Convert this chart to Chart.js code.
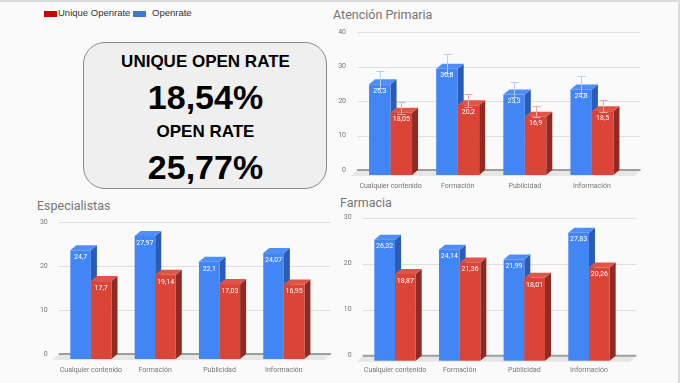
<!DOCTYPE html>
<html>
<head>
<meta charset="utf-8">
<script src="https://cdn.jsdelivr.net/npm/chart.js@4.4.1/dist/chart.umd.min.js"></script>
<style>
html, body { margin: 0; padding: 0; }
body { width: 680px; height: 383px; background: #fafafa; position: relative; overflow: hidden; font-family: Roboto, sans-serif; }
.frame { position: absolute; left: 0; top: 0; width: 678px; height: 381px; border-top: 2px solid #dcdcdc; border-right: 2px solid #dcdcdc; }
.swatch { position: absolute; top: 11px; width: 13px; height: 6px; }
.legtext { position: absolute; top: 7px; font: 9.5px "Liberation Sans", Arial, sans-serif; color: #333; line-height: 12px; }
.kpi { position: absolute; left: 83px; top: 42px; width: 242px; height: 145px; border: 1.5px solid #8a8a8a; border-radius: 22px; background: #efefef; }
.kpitext { position: absolute; left: 83px; width: 245px; text-align: center; font-family: "Liberation Sans", Arial, sans-serif; font-weight: bold; color: #000; }
.title { position: absolute; font: 12.5px Roboto, sans-serif; color: #757575; line-height: 16px; }
canvas { position: absolute; }
</style>
</head>
<body>
<div class="frame"></div>

<div class="swatch" style="left:44px;background:#cc0000"></div>
<div class="legtext" style="left:58px">Unique Openrate</div>
<div class="swatch" style="left:133px;background:#3c78d8"></div>
<div class="legtext" style="left:152px">Openrate</div>

<div class="kpi"></div>
<div class="kpitext" style="top:52px;font-size:17px;line-height:20px">UNIQUE OPEN RATE</div>
<div class="kpitext" style="top:77px;font-size:34px;line-height:40px">18,54%</div>
<div class="kpitext" style="top:122px;font-size:17px;line-height:20px">OPEN RATE</div>
<div class="kpitext" style="top:147px;font-size:34px;line-height:40px">25,77%</div>

<div class="title" style="left:333px;top:7px">Atención Primaria</div>
<div class="title" style="left:37px;top:198px">Especialistas</div>
<div class="title" style="left:340px;top:195px">Farmacia</div>

<canvas id="apChart" width="350" height="195" style="left:330px;top:0px"></canvas>
<canvas id="espChart" width="335" height="188" style="left:0px;top:195px"></canvas>
<canvas id="farChart" width="345" height="188" style="left:335px;top:195px"></canvas>

<script>
const categories = ['Cualquier contenido', 'Formación', 'Publicidad', 'Información'];

// Atención Primaria
const apOpen = [26.3, 30.8, 23.3, 24.8];
const apUnique = [18.05, 20.2, 16.9, 18.5];
const apOpenErr = [2.5, 2.8, 2.1, 2.4];
const apUniqueErr = [1.7, 1.9, 1.6, 1.7];
const apTicks = [0, 10, 20, 30, 40];

// Especialistas
const espOpen = [24.7, 27.97, 22.1, 24.07];
const espUnique = [17.7, 19.14, 17.03, 16.95];
const espTicks = [0, 10, 20, 30];

// Farmacia
const farOpen = [26.32, 24.14, 21.99, 27.83];
const farUnique = [18.87, 21.36, 18.01, 20.26];
const farTicks = [0, 10, 20, 30];

const BLUE = { face: '#4285f4', side: '#2b5cb5', top: '#4f8ef5', err: '#b3cdf8' };
const RED = { face: '#db4437', side: '#8f2b22', top: '#e0554a', err: '#f2aaa4' };

function fmt(v) {
    return String(v).replace('.', ',');
}

// fake 3D boxes, floor and back wall drawn from the bar elements
const depth3d = {
    id: 'depth3d',
    beforeDatasetsDraw(chart, args, opts) {
        const ctx = chart.ctx;
        const area = chart.chartArea;
        const y = chart.scales.y;
        const right = area.right + opts.ext;
        const y0 = y.getPixelForValue(0);
        ctx.save();
        ctx.strokeStyle = '#e0e0e0';
        ctx.lineWidth = 1;
        y.ticks.forEach((t) => {
            if (t.value === 0) return;
            const py = Math.round(y.getPixelForValue(t.value)) + 0.5;
            ctx.beginPath();
            ctx.moveTo(area.left, py);
            ctx.lineTo(right, py);
            ctx.stroke();
        });
        ctx.fillStyle = '#e6e6e6';
        ctx.beginPath();
        ctx.moveTo(area.left, y0);
        ctx.lineTo(right, y0);
        ctx.lineTo(right - opts.dx, y0 + opts.dy + 1);
        ctx.lineTo(area.left - opts.dx, y0 + opts.dy + 1);
        ctx.closePath();
        ctx.fill();
        ctx.strokeStyle = '#9e9e9e';
        ctx.lineWidth = 2;
        ctx.beginPath();
        ctx.moveTo(area.left, y0);
        ctx.lineTo(right, y0);
        ctx.stroke();
        ctx.restore();
    },
    afterDatasetsDraw(chart, args, opts) {
        const ctx = chart.ctx;
        const dx = opts.dx, dy = opts.dy;
        const y = chart.scales.y;
        ctx.save();
        chart.data.datasets.forEach((ds, i) => {
            chart.getDatasetMeta(i).data.forEach((el) => {
                const l = el.x - el.width / 2, r = el.x + el.width / 2;
                const t = el.y + dy, b = el.base + dy;
                ctx.fillStyle = ds.colors.side;
                ctx.beginPath();
                ctx.moveTo(r, t); ctx.lineTo(r + dx, t - dy); ctx.lineTo(r + dx, b - dy); ctx.lineTo(r, b);
                ctx.closePath(); ctx.fill();
                ctx.fillStyle = ds.colors.top;
                ctx.beginPath();
                ctx.moveTo(l, t); ctx.lineTo(l + dx, t - dy); ctx.lineTo(r + dx, t - dy); ctx.lineTo(r, t);
                ctx.closePath(); ctx.fill();
                ctx.fillStyle = ds.colors.face;
                ctx.fillRect(l, t, el.width, b - t);
            });
        });
        chart.data.datasets.forEach((ds, i) => {
            if (!ds.errors) return;
            ctx.strokeStyle = ds.colors.err;
            ctx.lineWidth = 1;
            chart.getDatasetMeta(i).data.forEach((el, j) => {
                const v = ds.data[j];
                const hi = y.getPixelForValue(v + ds.errors[j]);
                const lo = y.getPixelForValue(v - ds.errors[j]);
                const cx = Math.round(el.x) + 0.5;
                ctx.beginPath();
                ctx.moveTo(cx, hi); ctx.lineTo(cx, lo);
                ctx.moveTo(cx - 4, Math.round(hi) + 0.5); ctx.lineTo(cx + 4, Math.round(hi) + 0.5);
                ctx.moveTo(cx - 4, Math.round(lo) + 0.5); ctx.lineTo(cx + 4, Math.round(lo) + 0.5);
                ctx.stroke();
            });
        });
        ctx.fillStyle = '#ffffff';
        ctx.font = '7px Roboto';
        ctx.textAlign = 'center';
        ctx.textBaseline = 'middle';
        chart.data.datasets.forEach((ds, i) => {
            chart.getDatasetMeta(i).data.forEach((el, j) => {
                ctx.fillText(fmt(ds.data[j]), el.x, el.y + dy + 7);
            });
        });
        ctx.restore();
    }
};

function buildChart(id, openVals, uniqueVals, tickVals, pad, yWidth, xHeight, xPad, openErr, uniqueErr) {
    return new Chart(document.getElementById(id), {
        type: 'bar',
        data: {
            labels: categories,
            datasets: [
                { label: 'Openrate', data: openVals, backgroundColor: 'rgba(0,0,0,0)', colors: BLUE, errors: openErr || null },
                { label: 'Unique Openrate', data: uniqueVals, backgroundColor: 'rgba(0,0,0,0)', colors: RED, errors: uniqueErr || null }
            ]
        },
        options: {
            responsive: false,
            animation: false,
            devicePixelRatio: 1,
            layout: { padding: pad },
            datasets: { bar: { categoryPercentage: 0.64, barPercentage: 1 } },
            plugins: {
                legend: { display: false },
                tooltip: { enabled: false },
                depth3d: { dx: 6, dy: 5, ext: 15 }
            },
            scales: {
                x: {
                    grid: { display: false, drawTicks: false },
                    border: { display: false },
                    ticks: { padding: xPad, color: '#757575', font: { family: 'Roboto', size: 7 }, maxRotation: 0, autoSkip: false },
                    afterFit(s) { s.height = xHeight; s.paddingLeft = 0; s.paddingRight = 0; }
                },
                y: {
                    min: tickVals[0],
                    max: tickVals[tickVals.length - 1],
                    afterBuildTicks(s) { s.ticks = tickVals.map((v) => ({ value: v })); },
                    grid: { display: false, drawTicks: false },
                    border: { display: false },
                    ticks: { padding: 11, color: '#757575', font: { family: 'Roboto', size: 7 } },
                    afterFit(s) { s.width = yWidth; s.paddingTop = 0; s.paddingBottom = 0; }
                }
            }
        },
        plugins: [depth3d]
    });
}

buildChart('apChart', apOpen, apUnique, apTicks, { left: 0, top: 32, right: 54.5, bottom: 0 }, 27, 25, 12, apOpenErr, apUniqueErr);
buildChart('espChart', espOpen, espUnique, espTicks, { left: 0, top: 27, right: 19, bottom: 0 }, 58.75, 29, 12);
buildChart('farChart', farOpen, farUnique, farTicks, { left: 0, top: 22.7, right: 58.7, bottom: 0 }, 27.7, 27.3, 10);
</script>
</body>
</html>
